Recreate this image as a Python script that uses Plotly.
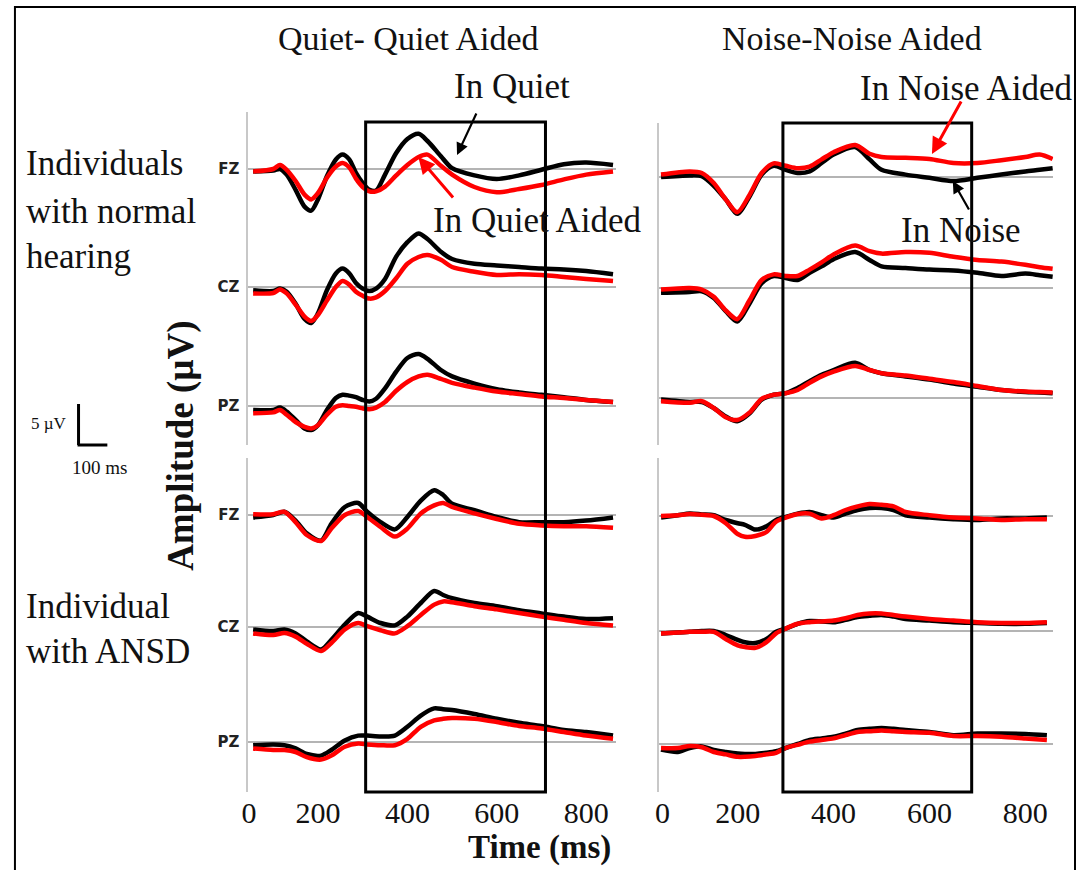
import plotly.graph_objects as go

W, H = 1076, 870

# ---------------- DATA (µV) ----------------
# Quiet / Quiet Aided, individuals with normal hearing
T_Q_NH = [55, 100, 115, 130, 150, 170, 185, 200, 220, 240, 255, 270, 285, 300, 315, 330, 350, 375, 400, 425, 445, 475, 500, 550, 600, 650, 700, 750, 800, 860]
Q_NH_FZ_QUIET = [-0.3, -0.2, 0.0, -0.7, -2.6, -4.7, -5.2, -3.8, -0.9, 1.2, 1.8, 1.2, -0.5, -1.75, -2.6, -2.7, -0.7, 2.0, 3.75, 4.4, 3.5, 1.6, 0.1, -0.8, -1.25, -0.8, -0.1, 0.6, 0.8, 0.5]
Q_NH_FZ_AIDED = [-0.3, 0.0, 0.5, -0.1, -1.5, -3.2, -3.8, -3.0, -1.1, 0.3, 0.75, 0.2, -1.2, -2.25, -2.8, -2.8, -2.2, -0.8, 0.5, 1.5, 1.8, 0.4, -0.7, -2.25, -2.9, -2.5, -2.0, -1.3, -0.7, -0.3]
Q_NH_CZ_QUIET = [-0.4, -0.5, -0.2, -0.6, -2.1, -4.0, -4.5, -3.3, -0.4, 1.7, 2.3, 1.7, 0.5, -0.2, -0.5, -0.2, 1.0, 3.8, 5.6, 6.7, 6.0, 4.4, 3.5, 2.9, 2.7, 2.5, 2.3, 2.2, 2.0, 1.6]
Q_NH_CZ_AIDED = [-0.8, -0.75, -0.3, -0.8, -2.2, -3.7, -4.25, -3.5, -1.7, 0.0, 0.75, 0.3, -0.6, -1.1, -1.45, -1.3, -0.5, 1.1, 2.9, 3.75, 4.0, 3.4, 2.5, 1.9, 1.5, 1.6, 1.5, 1.25, 1.0, 0.75]
Q_NH_PZ_QUIET = [-0.5, -0.5, -0.2, -0.7, -1.75, -2.8, -3.0, -2.4, -0.5, 1.0, 1.4, 1.3, 1.1, 0.75, 0.55, 0.9, 2.2, 4.3, 6.0, 6.5, 5.9, 4.5, 3.7, 2.8, 2.1, 1.7, 1.4, 1.1, 0.75, 0.5]
Q_NH_PZ_AIDED = [-0.9, -0.8, -0.5, -1.1, -2.0, -2.6, -2.8, -2.4, -1.1, -0.1, 0.1, 0.0, -0.1, -0.3, -0.4, -0.2, 0.5, 1.9, 3.0, 3.7, 3.9, 3.4, 2.9, 2.3, 1.8, 1.5, 1.2, 1.0, 0.75, 0.5]

# Quiet / Quiet Aided, individual with ANSD
T_Q_ANSD = [55, 100, 125, 150, 175, 207, 230, 260, 290, 310, 340, 372, 400, 430, 460, 480, 500, 550, 600, 650, 700, 750, 800, 860]
Q_AN_FZ_QUIET = [-0.3, 0.0, 0.4, -0.7, -2.3, -3.2, -1.1, 1.0, 1.5, 0.4, -0.9, -1.8, -0.25, 1.8, 3.1, 2.5, 1.4, 0.6, -0.25, -0.9, -0.9, -0.9, -0.7, -0.3]
Q_AN_FZ_AIDED = [0.1, 0.1, 0.4, -0.9, -2.5, -3.25, -1.7, 0.0, 0.5, -0.25, -1.5, -2.7, -1.7, 0.2, 1.2, 1.5, 1.0, 0.2, -0.5, -1.1, -1.3, -1.4, -1.4, -1.6]
Q_AN_CZ_QUIET = [-0.3, -0.5, -0.3, -0.8, -1.8, -2.8, -1.6, 0.3, 1.75, 1.3, 0.5, 0.2, 1.3, 3.0, 4.5, 4.0, 3.6, 3.0, 2.6, 2.1, 1.7, 1.3, 1.0, 1.1]
Q_AN_CZ_AIDED = [-0.8, -1.0, -0.75, -1.2, -2.1, -3.0, -2.0, -0.3, 0.5, 0.1, -0.4, -0.8, 0.1, 1.5, 2.8, 3.2, 3.1, 2.6, 2.2, 1.75, 1.3, 0.9, 0.5, 0.2]
Q_AN_PZ_QUIET = [-0.4, -0.3, -0.4, -0.8, -1.5, -1.7, -1.0, 0.2, 0.8, 0.8, 0.7, 0.8, 1.9, 3.3, 4.2, 4.1, 4.0, 3.5, 2.9, 2.4, 2.0, 1.5, 1.25, 0.8]
Q_AN_PZ_AIDED = [-0.8, -1.0, -1.0, -1.25, -1.9, -2.2, -1.7, -0.6, -0.2, -0.3, -0.4, -0.4, 0.4, 1.9, 2.7, 2.9, 3.0, 2.9, 2.5, 2.0, 1.7, 1.25, 0.8, 0.4]

# Noise / Noise Aided, individuals with normal hearing
T_N_NH = [40, 100, 125, 150, 175, 199, 225, 250, 275, 300, 325, 350, 375, 400, 445, 475, 500, 550, 600, 650, 700, 750, 800, 830, 857]
N_NH_FZ_NOISE = [0.0, 0.2, 0.1, -1.1, -2.8, -4.6, -2.4, 0.3, 1.4, 0.9, 0.5, 0.7, 1.75, 2.8, 3.75, 2.2, 0.9, 0.3, -0.1, -0.5, -0.1, 0.3, 0.7, 0.9, 1.1]
N_NH_FZ_AIDED = [0.3, 0.7, 0.5, -0.75, -2.8, -4.4, -2.2, 0.5, 1.7, 1.4, 1.1, 1.3, 2.2, 3.1, 4.0, 2.9, 2.5, 2.4, 2.25, 1.75, 1.75, 2.1, 2.5, 2.8, 2.25]
N_NH_CZ_NOISE = [-0.6, -0.5, -0.4, -1.25, -2.9, -4.2, -1.9, 0.6, 1.5, 1.25, 1.0, 1.9, 2.7, 3.6, 4.5, 3.5, 2.7, 2.5, 2.3, 2.2, 1.9, 1.5, 1.8, 1.6, 1.4]
N_NH_CZ_AIDED = [-0.2, 0.0, -0.2, -1.1, -2.8, -3.9, -1.5, 1.0, 1.7, 1.5, 1.5, 2.3, 3.2, 4.2, 5.3, 4.6, 4.3, 4.5, 4.4, 3.9, 3.5, 3.3, 2.9, 2.6, 2.4]
N_NH_PZ_NOISE = [-0.2, -0.5, -0.5, -1.25, -2.3, -2.9, -1.9, -0.2, 0.4, 0.6, 1.25, 2.1, 2.9, 3.5, 4.4, 3.5, 3.1, 2.7, 2.3, 1.8, 1.4, 1.0, 0.75, 0.7, 0.6]
N_NH_PZ_AIDED = [-0.4, -0.6, -0.4, -1.25, -2.4, -2.75, -1.8, -0.1, 0.4, 0.6, 1.0, 1.9, 2.7, 3.3, 4.0, 3.5, 3.1, 2.8, 2.4, 2.0, 1.5, 1.0, 0.8, 0.75, 0.7]

# Noise / Noise Aided, individual with ANSD
T_N_ANSD = [40, 75, 100, 125, 150, 175, 200, 215, 237, 260, 280, 300, 325, 350, 375, 400, 425, 450, 475, 500, 525, 550, 600, 650, 700, 750, 800, 845]
N_AN_FZ_NOISE = [-0.2, 0.1, 0.3, 0.2, 0.1, -0.5, -0.9, -1.1, -1.7, -1.3, -0.5, -0.1, 0.3, 0.5, 0.1, -0.2, 0.3, 0.75, 1.0, 1.0, 0.75, 0.1, -0.2, -0.4, -0.5, -0.3, -0.3, -0.2]
N_AN_FZ_AIDED = [0.0, 0.1, 0.25, 0.15, 0.0, -0.9, -2.25, -2.6, -2.5, -2.0, -0.7, -0.2, 0.25, 0.3, -0.3, 0.1, 0.75, 1.2, 1.5, 1.4, 1.2, 0.5, 0.1, -0.2, -0.3, -0.5, -0.4, -0.4]
N_AN_CZ_NOISE = [-0.3, -0.2, -0.1, 0.0, 0.0, -0.5, -1.1, -1.4, -1.5, -1.0, -0.1, 0.3, 0.9, 1.25, 1.2, 1.1, 1.4, 1.75, 1.9, 2.0, 1.8, 1.5, 1.3, 1.1, 1.0, 0.9, 0.9, 1.0]
N_AN_CZ_AIDED = [-0.3, -0.2, -0.1, -0.1, -0.1, -1.0, -1.8, -2.0, -2.1, -1.4, -0.3, 0.3, 0.9, 1.1, 1.2, 1.3, 1.6, 2.0, 2.2, 2.2, 2.0, 1.8, 1.5, 1.3, 1.1, 1.0, 1.0, 1.1]
N_AN_PZ_NOISE = [-0.7, -1.0, -0.5, -0.3, -0.75, -1.0, -1.2, -1.25, -1.25, -1.1, -0.9, -0.5, 0.0, 0.5, 0.7, 0.9, 1.3, 1.75, 1.9, 2.0, 1.9, 1.75, 1.5, 1.1, 1.3, 1.3, 1.25, 1.1]
N_AN_PZ_AIDED = [-0.5, -0.5, -0.25, -0.4, -1.0, -1.3, -1.6, -1.6, -1.5, -1.3, -1.1, -0.5, -0.1, 0.3, 0.5, 0.7, 1.1, 1.5, 1.6, 1.7, 1.6, 1.5, 1.4, 1.0, 1.0, 0.9, 0.7, 0.5]

CHANNELS = ["FZ", "CZ", "PZ"]
X_TICK_LABELS = ["0", "200", "400", "600", "800"]
COLUMN_TITLES = ["Quiet- Quiet Aided", "Noise-Noise Aided"]
ROW_LABELS = [["Individuals", "with normal", "hearing"], ["Individual", "with ANSD"]]

# ---------------- LAYOUT HELPERS ----------------
def fx(p):
    return p / W

def fy(p):
    return 1 - p / H

PXUV = 8.0  # pixels per µV

# column geometry: px = c0 + (ms - 400) * k
COLS = {
    "L": dict(c0=403.0, k=0.45, dom=(243, 613), zero_tick=46),
    "R": dict(c0=832.0, k=0.4825, dom=(656, 1053), zero_tick=43),
}

def ms_of(col, px):
    c = COLS[col]
    return 400 + (px - c["c0"]) / c["k"]

panels = [
    dict(col="L", ydom=(112, 445), base=(169, 287, 406), t=T_Q_NH,
         black=[Q_NH_FZ_QUIET, Q_NH_CZ_QUIET, Q_NH_PZ_QUIET],
         red=[Q_NH_FZ_AIDED, Q_NH_CZ_AIDED, Q_NH_PZ_AIDED], bottom=False),
    dict(col="L", ydom=(458, 792), base=(515, 627, 742), t=T_Q_ANSD,
         black=[Q_AN_FZ_QUIET, Q_AN_CZ_QUIET, Q_AN_PZ_QUIET],
         red=[Q_AN_FZ_AIDED, Q_AN_CZ_AIDED, Q_AN_PZ_AIDED], bottom=True),
    dict(col="R", ydom=(123, 445), base=(177, 288, 398), t=T_N_NH,
         black=[N_NH_FZ_NOISE, N_NH_CZ_NOISE, N_NH_PZ_NOISE],
         red=[N_NH_FZ_AIDED, N_NH_CZ_AIDED, N_NH_PZ_AIDED], bottom=False),
    dict(col="R", ydom=(458, 792), base=(516, 631, 744), t=T_N_ANSD,
         black=[N_AN_FZ_NOISE, N_AN_CZ_NOISE, N_AN_PZ_NOISE],
         red=[N_AN_FZ_AIDED, N_AN_CZ_AIDED, N_AN_PZ_AIDED], bottom=True),
]

SERIF = "Liberation Serif"
fig = go.Figure()
layout_axes = {}

for i, p in enumerate(panels):
    n = "" if i == 0 else str(i + 1)
    xa, ya = "x" + n, "y" + n
    c = COLS[p["col"]]
    ytop, ybot = p["ydom"]
    yrange = (0, (ybot - ytop) / PXUV)
    offsets = [(ybot - b) / PXUV for b in p["base"]]
    for k in range(3):
        for series, color in ((p["black"][k], "#000000"), (p["red"][k], "#ff0000")):
            fig.add_trace(go.Scatter(
                x=p["t"], y=[v + offsets[k] for v in series],
                mode="lines", line=dict(color=color, width=4.5, shape="spline", smoothing=0.8),
                xaxis=xa, yaxis=ya, showlegend=False, hoverinfo="skip"))
    xr = (ms_of(p["col"], c["dom"][0]), ms_of(p["col"], c["dom"][1]))
    layout_axes["xaxis" + n] = dict(
        domain=[fx(c["dom"][0]), fx(c["dom"][1])], range=list(xr), anchor=ya,
        showgrid=False, zeroline=False, showline=False, ticks="",
        showticklabels=p["bottom"],
        tickvals=[c["zero_tick"], 200, 400, 600, 800], ticktext=X_TICK_LABELS,
        tickfont=dict(family=SERIF, size=30, color="#111"))
    layout_axes["yaxis" + n] = dict(
        domain=[fy(ybot), fy(ytop)], range=list(yrange), anchor=xa,
        tickvals=offsets, ticktext=["<b>%s</b>" % ch for ch in CHANNELS],
        showticklabels=(p["col"] == "L"),
        tickfont=dict(family="DejaVu Sans", size=15, color="#222"),
        showgrid=True, gridcolor="#b4b4b4", gridwidth=1.5, zeroline=False,
        showline=True, linecolor="#c8c8c8", linewidth=2, ticks="", ticklabelstandoff=4)

shapes = []
# outer frame
shapes.append(dict(type="rect", xref="paper", yref="paper", x0=fx(8), x1=fx(1075), y0=fy(900), y1=fy(7),
                   line=dict(color="black", width=2), fillcolor="rgba(0,0,0,0)", layer="above"))
# time windows
for x0, x1, y0 in ((361, 542, 122), (781, 971, 123)):
    shapes.append(dict(type="rect", xref="paper", yref="paper", x0=fx(x0), x1=fx(x1), y0=fy(792), y1=fy(y0),
                       line=dict(color="black", width=3), fillcolor="rgba(0,0,0,0)", layer="above"))
# scale bar
shapes.append(dict(type="line", xref="paper", yref="paper", x0=fx(72), x1=fx(72), y0=fy(404), y1=fy(445),
                   line=dict(color="black", width=3)))
shapes.append(dict(type="line", xref="paper", yref="paper", x0=fx(71), x1=fx(101), y0=fy(445), y1=fy(445),
                   line=dict(color="black", width=3)))

ann = []
def text(t, x, y, size, xanchor="center", bold=False, angle=0):
    ann.append(dict(text=("<b>%s</b>" % t) if bold else t, x=fx(x), y=fy(y), xref="paper", yref="paper",
                    xanchor=xanchor, yanchor="middle", showarrow=False, textangle=angle,
                    font=dict(family=SERIF, size=size, color="#111")))

text(COLUMN_TITLES[0], 404, 38, 34)
text(COLUMN_TITLES[1], 851, 38, 34)
for j, line in enumerate(ROW_LABELS[0]):
    text(line, 17, [164, 211, 256][j], 35, xanchor="left")
for j, line in enumerate(ROW_LABELS[1]):
    text(line, 17, [606, 651][j], 35, xanchor="left")
text("In Quiet", 508, 87, 35)
text("In Quiet Aided", 534, 220, 35)
text("In Noise Aided", 965, 88, 35)
text("In Noise", 960, 231, 35)
text("Time (ms)", 536, 847, 33, bold=True)
text("Amplitude (µV)", 175, 445, 37, bold=True, angle=-90)
text("5 µV", 42, 423, 17)
text("100 ms", 93, 467, 19)

def arrow(tip, tail, color, width):
    ann.append(dict(text="", x=fx(tip[0]), y=fy(tip[1]), xref="paper", yref="paper",
                    ax=tail[0] - tip[0], ay=tail[1] - tip[1], axref="pixel", ayref="pixel",
                    showarrow=True, arrowhead=2, arrowsize=1.1, arrowwidth=width, arrowcolor=color))

arrow((453, 155), (473, 112), "black", 2.2)
arrow((414, 157), (450, 199), "#ff0000", 3)
arrow((931, 154), (961, 100), "#ff0000", 3)
arrow((952, 181), (969, 211), "black", 2.2)

fig.update_layout(width=W, height=H, margin=dict(l=0, r=0, t=0, b=0),
                  paper_bgcolor="white", plot_bgcolor="rgba(0,0,0,0)",
                  shapes=shapes, annotations=ann, showlegend=False, **layout_axes)

fig.write_html("out.html")
